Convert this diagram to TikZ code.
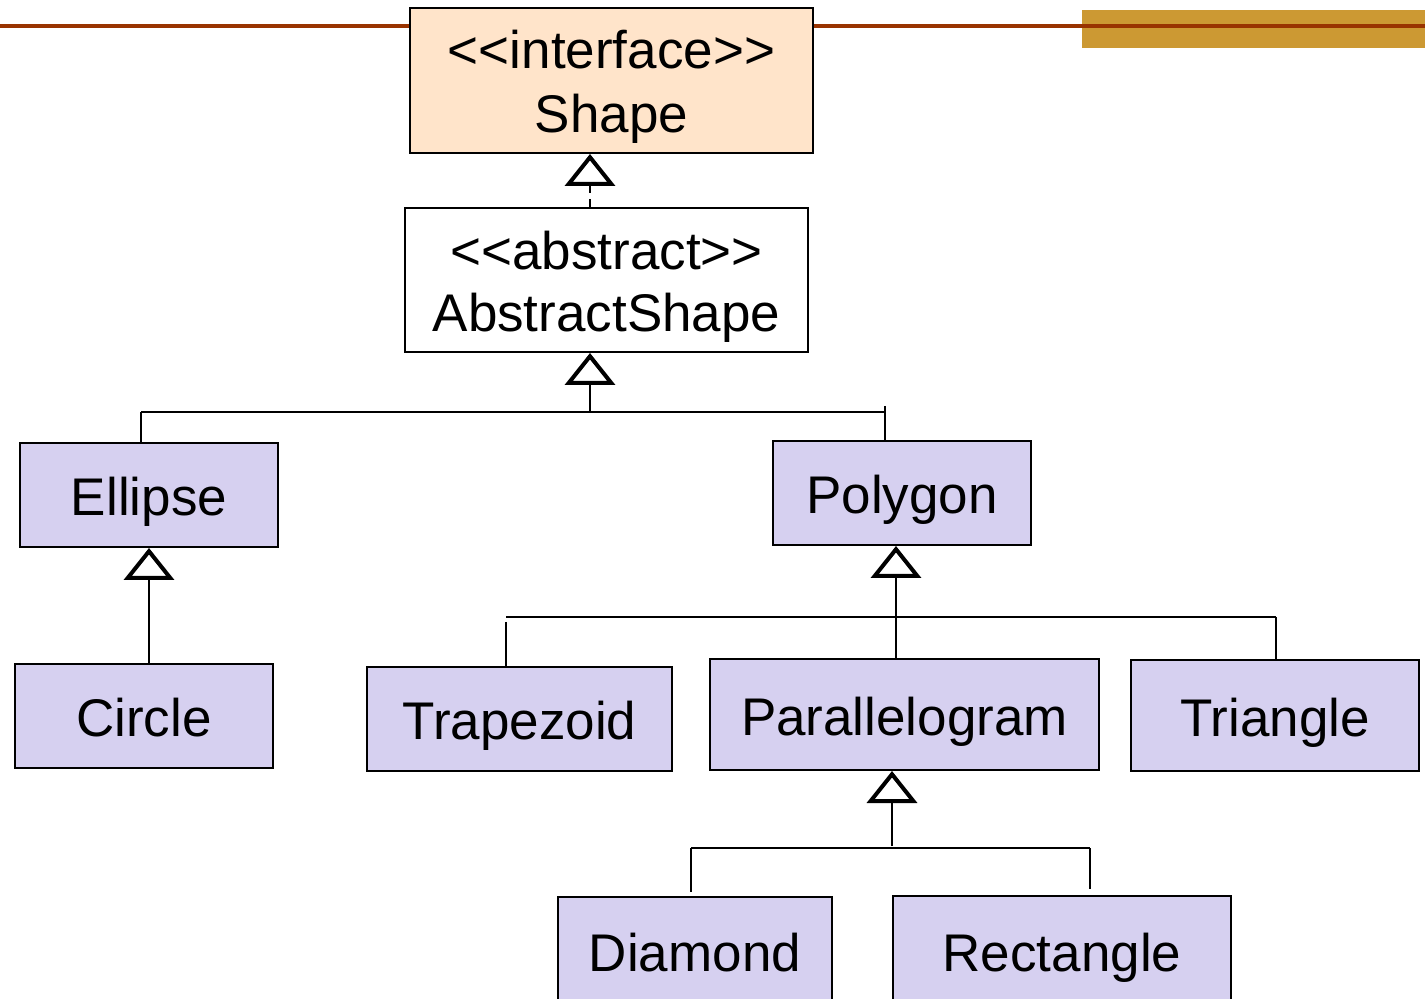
\documentclass[tikz,border=0pt]{standalone}
\usepackage{fontspec}
\setmainfont{Liberation Sans}[Ligatures=TeXOff]
\usetikzlibrary{arrows.meta}
\definecolor{lila}{RGB}{214,208,240}
\definecolor{durazno}{RGB}{255,228,202}
\definecolor{dorado}{RGB}{204,153,51}
\definecolor{cafe}{RGB}{153,51,0}
\begin{document}
\begin{tikzpicture}[x=0.5pt,y=-0.5pt,
    caja/.style={draw,line width=1pt,inner sep=0pt,align=center,font=\fontsize{26.5}{31}\selectfont},
    clase/.style={caja,fill=lila,text height=21pt,text depth=0pt},
    linea/.style={line width=1pt},
    hereda/.style={linea,-{Triangle[open,width=25pt,length=16pt,line width=2pt]}}]
    %Marco
    \useasboundingbox (0,0) rectangle (1425,999);
    \clip (0,0) rectangle (1425,999);
    \fill[dorado] (1082,10) rectangle (1425,48);
    \draw[cafe,line width=2pt] (0,26) -- (1425,26);

    %Cajas
    \node[caja,fill=durazno,minimum width=201.5pt,minimum height=72.5pt,text height=52.5pt,text depth=0pt,font=\fontsize{26.5}{32}\selectfont] (shape) at (611.5,80.5) {<<interface>>\\Shape};
    \node[caja,fill=white,minimum width=201.5pt,minimum height=72pt,text height=52pt,text depth=0pt] (abs) at (606.5,280) {<<abstract>>\\AbstractShape};
    \node[clase,minimum width=129pt,minimum height=52pt] (elipse) at (149,495) {Ellipse};
    \node[clase,minimum width=129pt,minimum height=52pt] (poligono) at (902,493) {Polygon};
    \node[clase,minimum width=129pt,minimum height=52pt] (circulo) at (144,716) {Circle};
    \node[clase,minimum width=152.5pt,minimum height=52pt] (trapecio) at (519.5,719) {Trapezoid};
    \node[clase,minimum width=194.5pt,minimum height=55.5pt] (paralelo) at (904.5,714.5) {Parallelogram};
    \node[clase,minimum width=144pt,minimum height=55.5pt] (triang) at (1275,715.5) {Triangle};
    \node[clase,minimum width=137pt,minimum height=53pt] (rombo) at (695,950) {Diamond};
    \node[clase,minimum width=169pt,minimum height=54pt] (rect) at (1062,950) {Rectangle};

    %Interfaz
    \coordinate (t0) at (590,0);
    \draw[hereda,dash pattern=on 4pt off 3pt] (t0 |- abs.north) -- (t0 |- shape.south);

    %Hijos de AbstractShape
    \coordinate (t1) at (590,412);
    \coordinate (t1a) at (141,412);
    \coordinate (t1b) at (885,412);
    \draw[hereda] (t1) -- (t1 |- abs.south);
    \draw[linea] (t1a) -- (t1b);
    \draw[linea] (t1a) -- (t1a |- elipse.north);
    \draw[linea,shorten <=-3pt] (t1b) -- (t1b |- poligono.north);

    %Hijos de Ellipse
    \draw[hereda] (elipse.south |- circulo.north) -- (elipse.south);

    %Hijos de Polygon
    \coordinate (t2) at (896,617);
    \coordinate (t2a) at (506,617);
    \coordinate (t2b) at (1276,617);
    \draw[hereda] (t2 |- paralelo.north) -- (t2 |- poligono.south);
    \draw[linea] (t2a) -- (t2b);
    \draw[linea,shorten <=2.5pt] (t2a) -- (t2a |- trapecio.north);
    \draw[linea] (t2b) -- (t2b |- triang.north);

    %Hijos de Parallelogram
    \coordinate (t3) at (892,846);
    \coordinate (t3a) at (691,848);
    \coordinate (t3b) at (1090,848);
    \draw[hereda] (t3) -- (t3 |- paralelo.south);
    \draw[linea] (t3a) -- (t3b);
    \draw[linea,shorten >=2pt] (t3a) -- (t3a |- rombo.north);
    \draw[linea,shorten >=3pt] (t3b) -- (t3b |- rect.north);
\end{tikzpicture}
\end{document}
